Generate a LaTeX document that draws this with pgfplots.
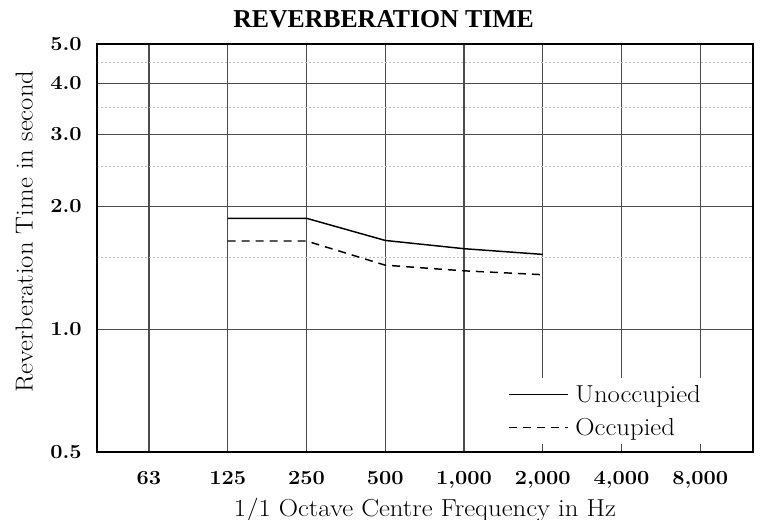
\documentclass[border=0pt]{standalone}
\usepackage{fontspec}
\setmainfont{Latin Modern Roman}[FakeStretch=1.09]
\usepackage{pgfplots}
\pgfplotsset{compat=1.18}
\newfontfamily\titlefont{Liberation Serif}
\begin{document}
\begin{tikzpicture}
\begin{axis}[
  width=492pt, height=306pt, scale only axis,
  xmin=0.34, xmax=8.67,
  ymode=log, ymin=0.5, ymax=5,
  xtick={1,2,3,4,5,6,7,8},
  xticklabels={63,125,250,500,{1,000},{2,000},{4,000},{8,000}},
  ytick={0.5,1,2,3,4,5},
  yticklabels={0.5,1.0,2.0,3.0,4.0,5.0},
  minor ytick={1.5,2.5,3.5,4.5},
  grid=both,
  major grid style={draw=black!70, line width=0.8pt},
  minor grid style={draw=black!28, line width=0.6pt, dash pattern=on 1.2pt off 1.8pt},
  major tick length=0pt, minor tick length=0pt,
  axis line style={line width=1.1pt},
  tick label style={font=\fontsize{15}{17}\selectfont\bfseries, inner sep=0pt},
  xticklabel style={anchor=north, yshift=-14.5pt},
  yticklabel style={anchor=east, xshift=-11.25pt},
  ylabel={Reverberation Time in second},
  ylabel style={at={(rel axis cs:-0.111,0.540)}, anchor=center, font=\fontsize{18.4}{22}\selectfont},
  xlabel={1/1 Octave Centre Frequency in Hz},
  xlabel style={at={(rel axis cs:0.5,-0.159)}, anchor=base, font=\fontsize{18.4}{22}\selectfont},
  legend style={at={(rel axis cs:0.619,0.019)}, anchor=south west, draw=none, fill=white,
    font=\fontsize{18.4}{22}\selectfont, inner xsep=4pt, inner ysep=3pt, row sep=6.5pt,
    nodes={inner xsep=5pt}},
  legend cell align=left,
  legend image code/.code={\draw[#1, line width=1.1pt] (0pt,0pt) -- (44pt,0pt);},
]
\coordinate (bl) at (rel axis cs:0,0);
\addplot[black, line width=1.1pt] coordinates {(2,1.87) (3,1.87) (4,1.65) (5,1.575) (6,1.525)};
\addlegendentry{Unoccupied}
\addplot[black, line width=1.1pt, dash pattern=on 6pt off 4.5pt] coordinates {(2,1.645) (3,1.645) (4,1.435) (5,1.39) (6,1.36)};
\addlegendentry{Occupied}
\end{axis}
\path (bl) ++(214.9pt,318pt) node[anchor=base, inner sep=0pt, font=\titlefont\fontsize{19.3}{23}\selectfont\bfseries] {REVERBERATION TIME};
\pgfresetboundingbox
\path[use as bounding box] (bl) ++(-72.75pt,-51pt) rectangle ++(570pt,390pt);
\end{tikzpicture}
\end{document}
